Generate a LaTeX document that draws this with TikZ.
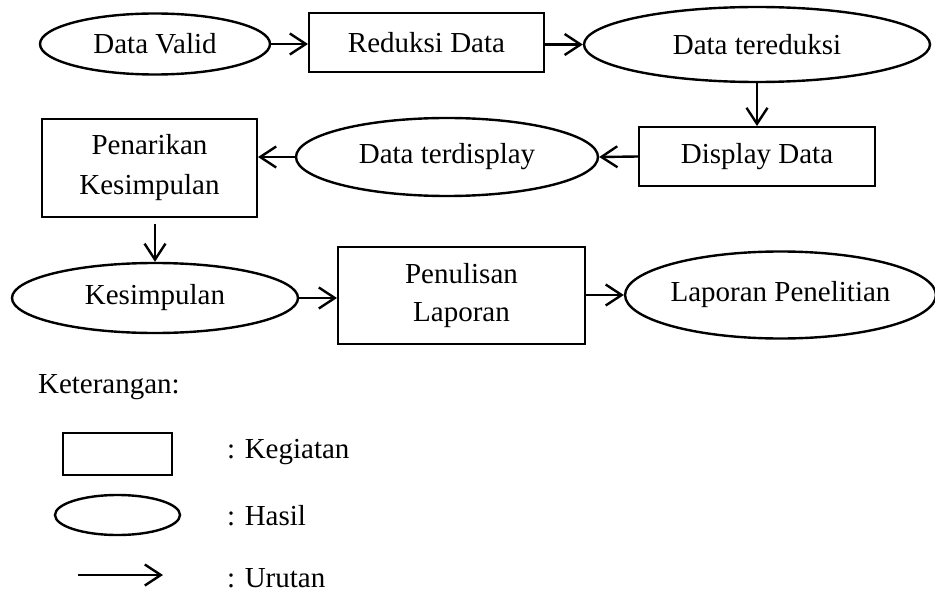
\documentclass[tikz,border=0pt]{standalone}
\usepackage{fontspec}
\setmainfont{Liberation Serif}
\usetikzlibrary{shapes.geometric,arrows.meta}
\begin{document}
\begin{tikzpicture}[x=0.5pt,y=-0.5pt,
  txt/.style={font=\fontsize{14.5}{20}\selectfont},
  box/.style={txt,draw,rectangle,line width=1pt,inner sep=0pt,align=center},
  oval/.style={txt,draw,ellipse,line width=1.2pt,inner sep=0pt,align=center},
  flow/.style={line width=1.2pt,-{Straight Barb[length=8pt,width=10.5pt,line width=1.2pt]}}]
\useasboundingbox (0,0) rectangle (935,593);
% row 1
\node[oval,minimum width=115pt,minimum height=30.5pt] (DV) at (155,44) {Data Valid};
\node[box,minimum width=117.5pt,minimum height=29.5pt] (RD) at (426.5,43) {Reduksi Data};
\node[oval,minimum width=173pt,minimum height=37.5pt] (DT) at (757,44.5) {Data tereduksi};
% row 2
\node[box,minimum width=118pt,minimum height=29.5pt] (DD) at (757,156.5) {Display Data};
\node[oval,minimum width=151pt,minimum height=39pt] (DTD) at (447,157) {Data terdisplay};
\node[box,minimum width=107.5pt,minimum height=49pt] (PK) at (149.5,168) {Penarikan\\Kesimpulan};
% row 3
\node[oval,minimum width=143pt,minimum height=35pt] (KS) at (155,298) {Kesimpulan};
\node[box,minimum width=123.5pt,minimum height=48.5pt,font=\fontsize{14.5}{19}\selectfont] (PL) at (461.5,295.5) {Penulisan\\Laporan};
\node[oval,minimum width=152.5pt,minimum height=43.5pt] (LP) at (780.5,295) {Laporan Penelitian};
% connectors
\draw[flow] (DV.east) -- (DV.east -| RD.west);
\draw[flow] (RD.east) -- (RD.east |- DT.west) -- (DT.west);
\draw[flow] (DT.south) -- (DD.north);
\draw[flow] (DD.west) -- (DTD.east);
\draw[flow] (DTD.west) -- (DTD.west -| PK.east);
\draw[flow,shorten <=3pt] (KS.north |- PK.south) -- (KS.north);
\draw[flow] (KS.east) -- (KS.east -| PL.west);
\draw[flow] (PL.east) -- (PL.east |- LP.west) -- (LP.west);
% legend
\node[txt,anchor=west] (KT) at (31,387) {Keterangan:};
\node[box,minimum width=54.5pt,minimum height=21pt] (LR) at (117.5,454) {};
\node[txt,anchor=west] (LRT) at (220,452) {: Kegiatan};
\node[oval,minimum width=62.5pt,minimum height=20pt] (LE) at (117.5,515) {};
\node[txt,anchor=west] (LET) at (220,516) {: Hasil};
\coordinate (LA1) at (78,575);
\coordinate (LA2) at (163,575);
\draw[flow] (LA1) -- (LA2);
\node[txt,anchor=west] (LAT) at (220,578) {: Urutan};
\end{tikzpicture}
\end{document}
